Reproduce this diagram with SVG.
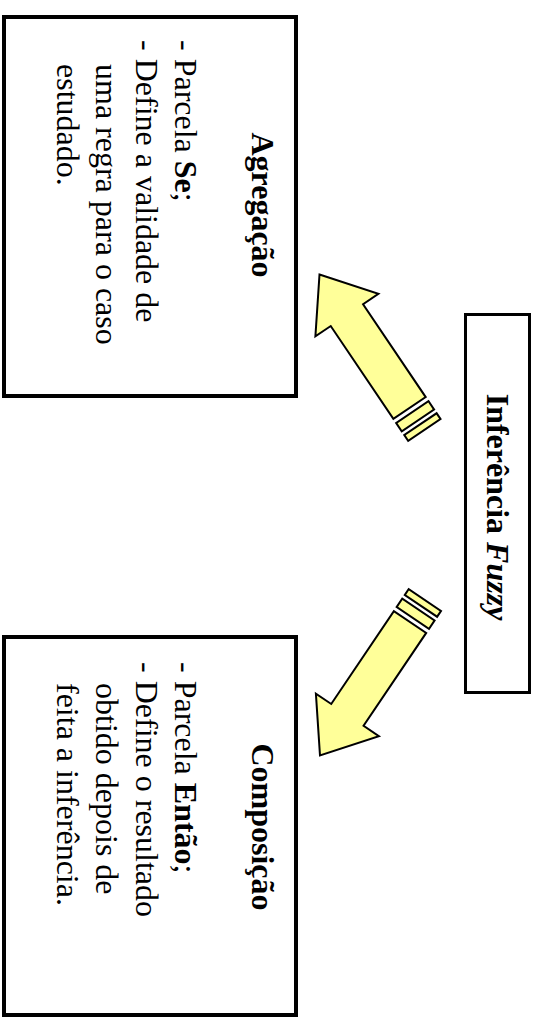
<svg xmlns="http://www.w3.org/2000/svg" width="539" height="1017" viewBox="0 0 539 1017">
<defs>
<style>
.box{fill:#ffffff;stroke:#000000;stroke-width:4}
.cbox{fill:#ffffff;stroke:#000000;stroke-width:3}
.t{font-family:"Liberation Serif","Times New Roman",serif;font-size:32px;fill:#000000}
.b{font-weight:bold}
.i{font-style:italic}
.arrow{fill:#FFFF99;stroke:#000000;stroke-width:2;stroke-linejoin:miter}
</style>
<g id="arrowShape">
<path class="arrow" d="M0,0 L49,-38 L49,-19.5 L161,-19.5 L161,19.5 L49,19.5 L49,38 Z"/>
<rect class="arrow" x="166" y="-19.5" width="10" height="39"/>
<rect class="arrow" x="180.5" y="-19.5" width="7" height="39"/>
</g>
</defs>
<rect width="539" height="1017" fill="#ffffff"/>
<g id="agregacao">
<rect class="box" x="4" y="17" width="292" height="379"/>
<text class="t b" text-anchor="middle" transform="translate(252,205) rotate(90)">Agregação</text>
<text class="t" transform="translate(175,40) rotate(90)">- Parcela <tspan class="b">Se</tspan>;</text>
<text class="t" transform="translate(135.5,40) rotate(90)">- Define a validade de</text>
<text class="t" transform="translate(96,64) rotate(90)">uma regra para o caso</text>
<text class="t" transform="translate(56.5,64) rotate(90)">estudado.</text>
</g>
<g id="composicao">
<rect class="box" x="4" y="637" width="292" height="378"/>
<text class="t b" text-anchor="middle" transform="translate(252,827) rotate(90)">Composição</text>
<text class="t" transform="translate(175,662) rotate(90)">- Parcela <tspan class="b">Então</tspan>;</text>
<text class="t" transform="translate(135.5,662) rotate(90)">- Define o resultado</text>
<text class="t" transform="translate(96,683) rotate(90)">obtido depois de</text>
<text class="t" transform="translate(56.5,683) rotate(90)">feita a inferência.</text>
</g>
<g id="inferencia">
<rect class="cbox" x="465.5" y="314.5" width="64" height="378"/>
<text class="t" text-anchor="middle" transform="translate(487,507) rotate(90)"><tspan class="b">Inferência </tspan><tspan class="b i">Fuzzy</tspan></text>
</g>
<g id="connectors">
<use href="#arrowShape" transform="translate(319.5,274.5) rotate(56)"/>
<use href="#arrowShape" transform="translate(320,755.5) rotate(-56)"/>
</g>
</svg>
